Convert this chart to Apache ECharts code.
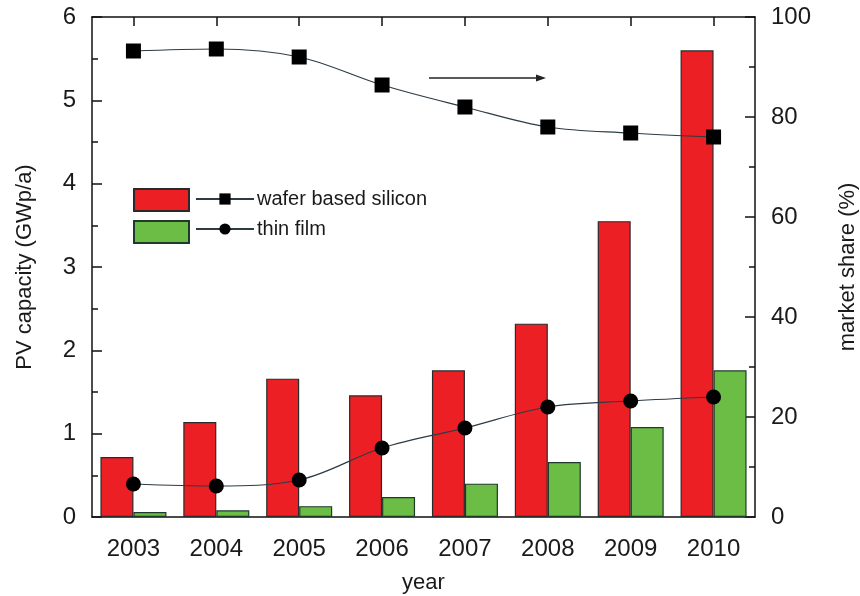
<!DOCTYPE html>
<html>
<head>
<meta charset="utf-8">
<script src="https://cdn.jsdelivr.net/npm/echarts@6/dist/echarts.min.js"></script>
<style>html,body{margin:0;padding:0;background:#fff}#c{width:860px;height:596px}</style>
</head>
<body>
<div id="c"></div>
<script>
const years = ['2003','2004','2005','2006','2007','2008','2009','2010'];
const waferCapacity = [0.72, 1.14, 1.66, 1.46, 1.76, 2.32, 3.55, 5.6];
const thinCapacity = [0.06, 0.08, 0.13, 0.24, 0.40, 0.66, 1.08, 1.76];
const waferShare = [93.2, 93.6, 92.0, 86.4, 82.0, 78.0, 76.8, 76.0];
const thinShare = [6.6, 6.2, 7.4, 13.8, 17.8, 22.0, 23.2, 24.0];
const leftTicks = [0, 1, 2, 3, 4, 5, 6];
const rightTicks = [0, 20, 40, 60, 80, 100];

const FONT = 'Liberation Sans, Arial, sans-serif';
const chart = echarts.init(document.getElementById('c'), null, {renderer: 'canvas'});
const axisLine = {show: true, onZero: false, lineStyle: {color: '#111', width: 1.5}};
chart.setOption({
  animation: false,
  backgroundColor: '#fff',
  grid: {left: 92, right: 105, top: 17, bottom: 79, containLabel: false, outerBoundsMode: 'none'},
  legend: [
    {
      data: ['wafer capacity', 'thin capacity'],
      orient: 'vertical', left: 128, top: 183,
      icon: 'rect',
      itemWidth: 55, itemHeight: 22, itemGap: 8,
      formatter: () => '',
      selectedMode: false,
      textStyle: {fontSize: 1}
    },
    {
      data: ['wafer based silicon', 'thin film'],
      orient: 'vertical', left: 190, top: 184,
      itemWidth: 58, itemHeight: 14, itemGap: 10,
      selectedMode: false,
      textStyle: {fontFamily: FONT, fontSize: 20, color: '#1a1a1a', lineHeight: 20, padding: [0, 0, 0, -2]}
    }
  ],
  xAxis: [
    {
      type: 'category', data: years, position: 'bottom',
      axisLine: axisLine,
      axisTick: {show: false},
      axisLabel: {fontFamily: FONT, fontSize: 24, color: '#1a1a1a', margin: 20},
      name: 'year', nameLocation: 'middle', nameGap: 55,
      nameTextStyle: {fontFamily: FONT, fontSize: 22, color: '#1a1a1a'}
    },
    {
      type: 'category', data: years, position: 'top',
      axisLine: axisLine,
      axisTick: {show: true, inside: true, alignWithLabel: true, length: 9, lineStyle: {color: '#111', width: 1.5}},
      axisLabel: {show: false}
    }
  ],
  yAxis: [
    {
      type: 'value', min: 0, max: 6, interval: 1, position: 'left',
      axisLine: axisLine,
      axisTick: {show: true, inside: true, length: 10, lineStyle: {color: '#111', width: 1.5}},
      minorTick: {show: true, splitNumber: 2, length: 6, lineStyle: {color: '#111', width: 1.5}},
      splitLine: {show: false},
      axisLabel: {fontFamily: FONT, fontSize: 24, color: '#1a1a1a', margin: 16,
        formatter: v => leftTicks.includes(v) ? String(v) : ''},
      name: 'PV capacity (GWp/a)', nameLocation: 'middle', nameGap: 56, nameRotate: 90,
      nameTextStyle: {fontFamily: FONT, fontSize: 22, color: '#1a1a1a'}
    },
    {
      type: 'value', min: 0, max: 100, interval: 20, position: 'right',
      axisLine: axisLine,
      axisTick: {show: true, inside: true, length: 10, lineStyle: {color: '#111', width: 1.5}},
      minorTick: {show: true, splitNumber: 2, length: 6, lineStyle: {color: '#111', width: 1.5}},
      splitLine: {show: false},
      axisLabel: {fontFamily: FONT, fontSize: 24, color: '#1a1a1a', margin: 16,
        formatter: v => rightTicks.includes(v) ? String(v) : ''},
      name: 'market share (%)', nameLocation: 'middle', nameGap: 82, nameRotate: 90,
      nameTextStyle: {fontFamily: FONT, fontSize: 22, color: '#1a1a1a'}
    }
  ],
  series: [
    {
      name: 'wafer capacity', type: 'bar', data: waferCapacity,
      xAxisIndex: 0, yAxisIndex: 0,
      barWidth: 33, barGap: '0%', z: 2,
      itemStyle: {color: '#ec2024', borderColor: '#2a2a2a', borderWidth: 1.2}
    },
    {
      name: 'thin capacity', type: 'bar', data: thinCapacity,
      xAxisIndex: 0, yAxisIndex: 0,
      barWidth: 33, barGap: '0%', z: 2,
      itemStyle: {color: '#6cbd45', borderColor: '#1f3a2a', borderWidth: 1.2}
    },
    {
      name: 'wafer based silicon', type: 'line', data: waferShare,
      xAxisIndex: 0, yAxisIndex: 1, smooth: 0.35, z: 5,
      symbol: 'rect', symbolSize: 15,
      itemStyle: {color: '#000'},
      lineStyle: {color: '#2d3b45', width: 1.2}
    },
    {
      name: 'thin film', type: 'line', data: thinShare,
      xAxisIndex: 0, yAxisIndex: 1, smooth: 0.35, z: 5,
      symbol: 'circle', symbolSize: 15,
      itemStyle: {color: '#000'},
      lineStyle: {color: '#2d3b45', width: 1.2}
    }
  ],
  graphic: [
    {type: 'line', shape: {x1: 429, y1: 78, x2: 538, y2: 78}, style: {stroke: '#222', lineWidth: 1.5}},
    {type: 'polygon', shape: {points: [[546, 78], [536, 74.5], [536, 81.5]]}, style: {fill: '#222'}}
  ]
});
</script>
</body>
</html>
